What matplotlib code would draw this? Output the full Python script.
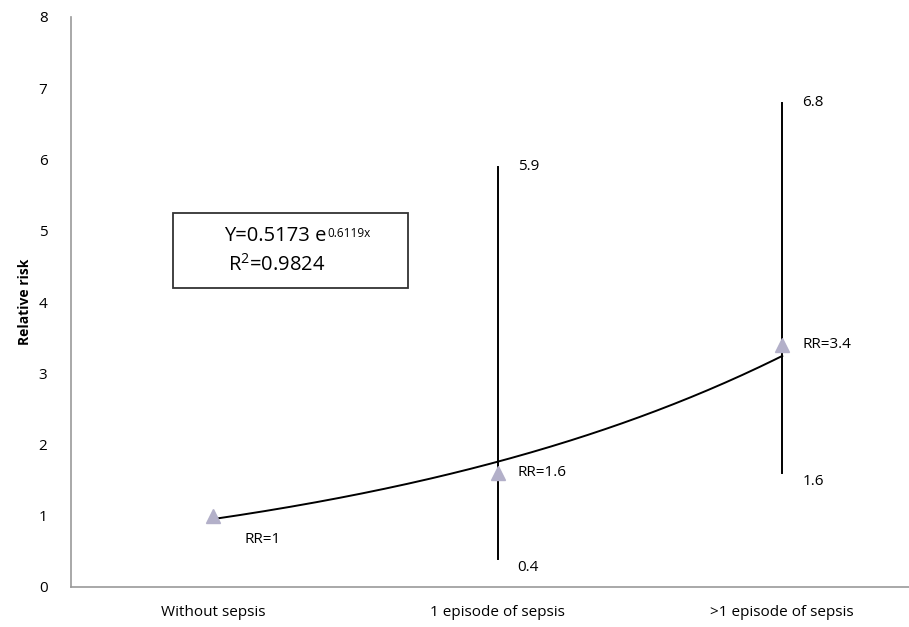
import matplotlib.pyplot as plt
import numpy as np
from matplotlib.patches import Rectangle

plt.rcParams["font.family"] = ["Open Sans", "DejaVu Sans"]
plt.rcParams["mathtext.fontset"] = "custom"
plt.rcParams["mathtext.rm"] = "Open Sans"

categories = ["Without sepsis", "1 episode of sepsis", ">1 episode of sepsis"]
rr = [1.0, 1.6, 3.4]
rr_labels = ["RR=1", "RR=1.6", "RR=3.4"]
ci_low = [None, 0.4, 1.6]
ci_high = [None, 5.9, 6.8]
y_ticks = [0, 1, 2, 3, 4, 5, 6, 7, 8]

x = np.arange(1, len(categories) + 1)

# exponential trendline fitted on log(RR), like Excel's
slope, intercept = np.polyfit(x, np.log(rr), 1)
a = np.exp(intercept)
xs = np.linspace(x[0], x[-1], 200)

fig = plt.figure(figsize=(9.09, 6.27), dpi=100)
ax = fig.add_axes([71 / 909, 1 - 587 / 627, 853.5 / 909, 570 / 627])
ax.set_xlim(0.5, 3.5)
ax.set_ylim(0, 8)

# confidence intervals
for xi, lo, hi in zip(x, ci_low, ci_high):
    if lo is None:
        continue
    ax.plot([xi, xi], [lo, hi], color="black", lw=1.4, zorder=2)
    ax.text(xi + 0.07, hi, f"{hi:g}", fontsize=11, va="center", ha="left")
    ax.text(xi + 0.07, lo - 0.12, f"{lo:g}", fontsize=11, va="center", ha="left")

ax.plot(xs, a * np.exp(slope * xs), color="black", lw=1.4, zorder=3)
ax.plot(x, rr, linestyle="none", marker="^", markersize=10,
        color="#b3b0c9", zorder=4)

label_offsets = [(0.11, -0.34), (0.07, 0.0), (0.07, 0.0)]
for xi, yi, lab, (dx, dy) in zip(x, rr, rr_labels, label_offsets):
    ax.text(xi + dx, yi + dy, lab, fontsize=11, va="center", ha="left")

# equation box
ax.add_patch(Rectangle((0.858, 4.19), 0.826, 1.06, fill=False,
                       ec="#333333", lw=1.3, zorder=5))
eq = ax.text(1.038, 4.93, f"Y={a:.4f} e", fontsize=14.5,
             va="center", ha="left")
ax.annotate(f"{slope:.4f}x", xy=(1, 1), xycoords=eq, xytext=(1, -1),
            textcoords="offset points", fontsize=8.5, va="top", ha="left")
ax.text(1.052, 4.52, "R$^{2}$=0.9824", fontsize=14.5, va="center", ha="left")

ax.set_xticks(x)
ax.set_xticklabels(categories, fontsize=11)
ax.set_yticks(y_ticks)
ax.set_yticklabels([str(t) for t in y_ticks], fontsize=11)
ax.tick_params(length=0)
ax.tick_params(axis="y", pad=17)
ax.tick_params(axis="x", pad=13)
ax.set_ylabel("Relative risk", fontsize=10, fontweight="bold", labelpad=5)

for side in ["top", "right"]:
    ax.spines[side].set_visible(False)
for side in ["left", "bottom"]:
    ax.spines[side].set_color("#999999")
    ax.spines[side].set_linewidth(1.2)

fig.savefig("out.png", dpi=100)
